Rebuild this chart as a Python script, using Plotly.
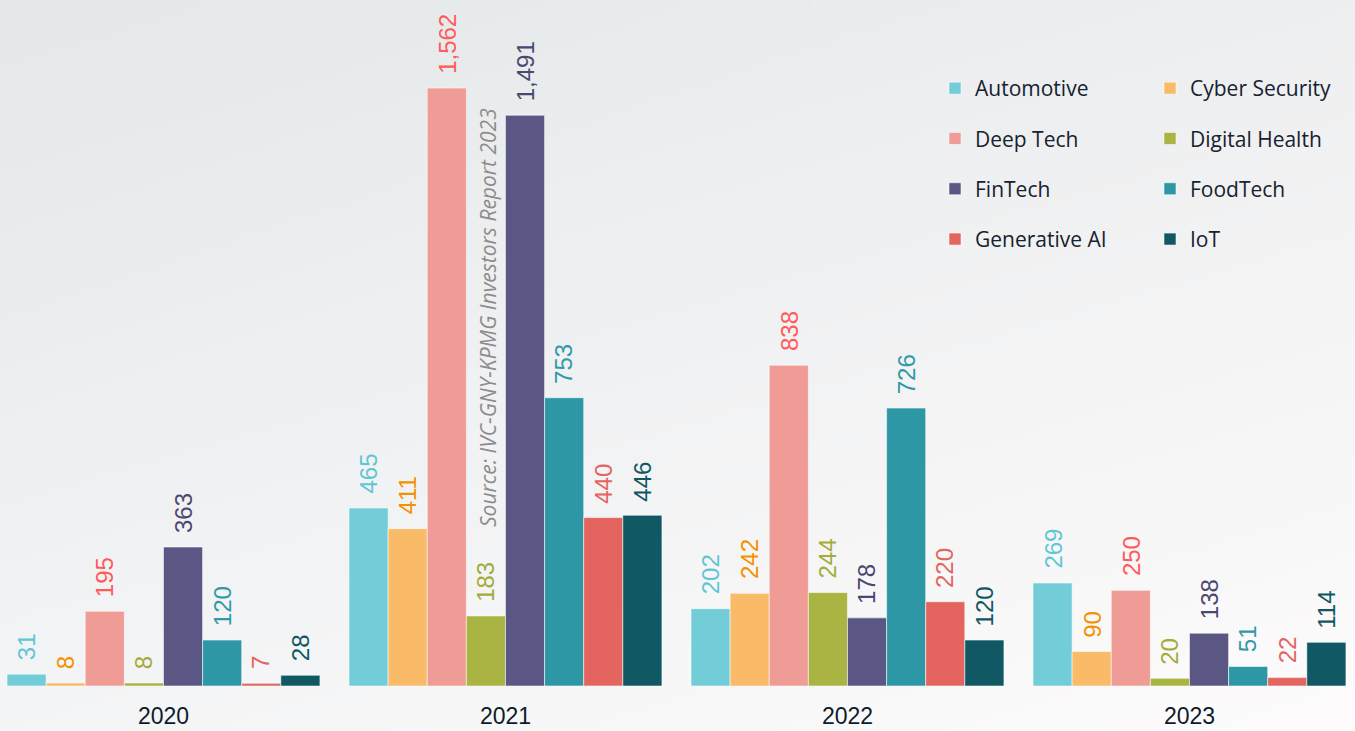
import base64
import struct
import zlib

import numpy as np
import plotly.graph_objects as go

years = ["2020", "2021", "2022", "2023"]
sectors = ["Automotive", "Cyber Security", "Deep Tech", "Digital Health",
           "FinTech", "FoodTech", "Generative AI", "IoT"]

automotive = [31, 465, 202, 269]
cyber_security = [8, 411, 242, 90]
deep_tech = [195, 1562, 838, 250]
digital_health = [8, 183, 244, 20]
fintech = [363, 1491, 178, 138]
foodtech = [120, 753, 726, 51]
generative_ai = [7, 440, 220, 22]
iot = [28, 446, 120, 114]

series = [automotive, cyber_security, deep_tech, digital_health,
          fintech, foodtech, generative_ai, iot]

bar_colors = ["#73cdd8", "#f9bb68", "#ef9b96", "#aab442",
              "#5a5784", "#2e97a5", "#e4655f", "#105864"]
label_colors = ["#5ec6d4", "#f39200", "#ff5a5a", "#a3ab3b",
                "#4a4870", "#2e9aa8", "#e4645e", "#105763"]

source_note = "Source: IVC-GNY-KPMG Investors Report 2023"

W, H = 1355, 731
BOTTOM = 45
BARGAP = 0.085


def gradient_png(w, h):
    """Soft diagonal grey-to-white background as a PNG data URI."""
    xs = np.linspace(0, 1, w)[None, :]
    ys = np.linspace(0, 1, h)[:, None]
    r = 228 + 10 * xs + 16 * ys
    g = 232 + 7 * xs + 13 * ys
    b = 233 + 7 * xs + 13 * ys
    img = np.clip(np.stack([r, g, b], axis=-1), 0, 255).astype(np.uint8)
    raw = b"".join(b"\x00" + img[y].tobytes() for y in range(h))

    def chunk(tag, data):
        c = struct.pack(">I", len(data)) + tag + data
        return c + struct.pack(">I", zlib.crc32(tag + data) & 0xFFFFFFFF)

    png = (b"\x89PNG\r\n\x1a\n"
           + chunk(b"IHDR", struct.pack(">IIBBBBB", w, h, 8, 2, 0, 0, 0))
           + chunk(b"IDAT", zlib.compress(raw, 9))
           + chunk(b"IEND", b""))
    return "data:image/png;base64," + base64.b64encode(png).decode()


x_idx = list(range(len(years)))
n = len(sectors)
bar_w = (1 - BARGAP) / n

fig = go.Figure()
annotations = []
for i, (name, vals) in enumerate(zip(sectors, series)):
    fig.add_trace(go.Bar(
        name=name, x=x_idx, y=vals,
        marker=dict(color=bar_colors[i],
                    line=dict(color="rgba(255,255,255,0.55)", width=1)),
        legend="legend" if i % 2 == 0 else "legend2",
        legendgroup=name,
        hoverinfo="x+y+name",
    ))
    offset = -(1 - BARGAP) / 2 + (i + 0.5) * bar_w
    for k, v in zip(x_idx, vals):
        annotations.append(dict(
            x=k + offset, y=v, xref="x", yref="y",
            text=f"{v:,}", textangle=-90, showarrow=False,
            xanchor="center", yanchor="bottom", yshift=12,
            font=dict(family="Liberation Sans, Arial, sans-serif",
                      size=24, color=label_colors[i]),
        ))

plot_h = H - BOTTOM
annotations.append(dict(
    x=488 / W, y=1 - 318 / plot_h, xref="paper", yref="paper",
    text=f"<i>{source_note}</i>", textangle=-90, showarrow=False,
    font=dict(family="Open Sans, sans-serif", size=21, color="#8c8c8c"),
))

legend_common = dict(
    orientation="v", yanchor="top", xanchor="left",
    bgcolor="rgba(0,0,0,0)", traceorder="grouped", tracegroupgap=20,
    font=dict(family="Open Sans, sans-serif", size=21, color="#17212f"),
)

fig.update_layout(
    width=W, height=H,
    margin=dict(l=0, r=0, t=0, b=BOTTOM),
    barmode="group", bargap=BARGAP, bargroupgap=0,
    paper_bgcolor="#f1f2f3", plot_bgcolor="rgba(0,0,0,0)",
    showlegend=True,
    legend=dict(x=(975 - 40) / W, y=1 - 68 / plot_h, **legend_common),
    legend2=dict(x=(1190 - 40) / W, y=1 - 68 / plot_h, **legend_common),
    xaxis=dict(
        tickmode="array", tickvals=x_idx, ticktext=years,
        range=[-0.478, 3.484], showgrid=False, zeroline=False,
        showline=False, ticks="outside", ticklen=9,
        tickcolor="rgba(0,0,0,0)",
        tickfont=dict(family="Liberation Sans, Arial, sans-serif",
                      size=23, color="#0d1b2a"),
    ),
    yaxis=dict(range=[0, 1792], visible=False, showgrid=False),
    annotations=annotations,
    images=[dict(
        source=gradient_png(271, 146), xref="paper", yref="paper",
        x=0, y=1, sizex=1, sizey=H / plot_h, sizing="stretch",
        xanchor="left", yanchor="top", layer="below",
    )],
)

fig.write_html("out.html")
